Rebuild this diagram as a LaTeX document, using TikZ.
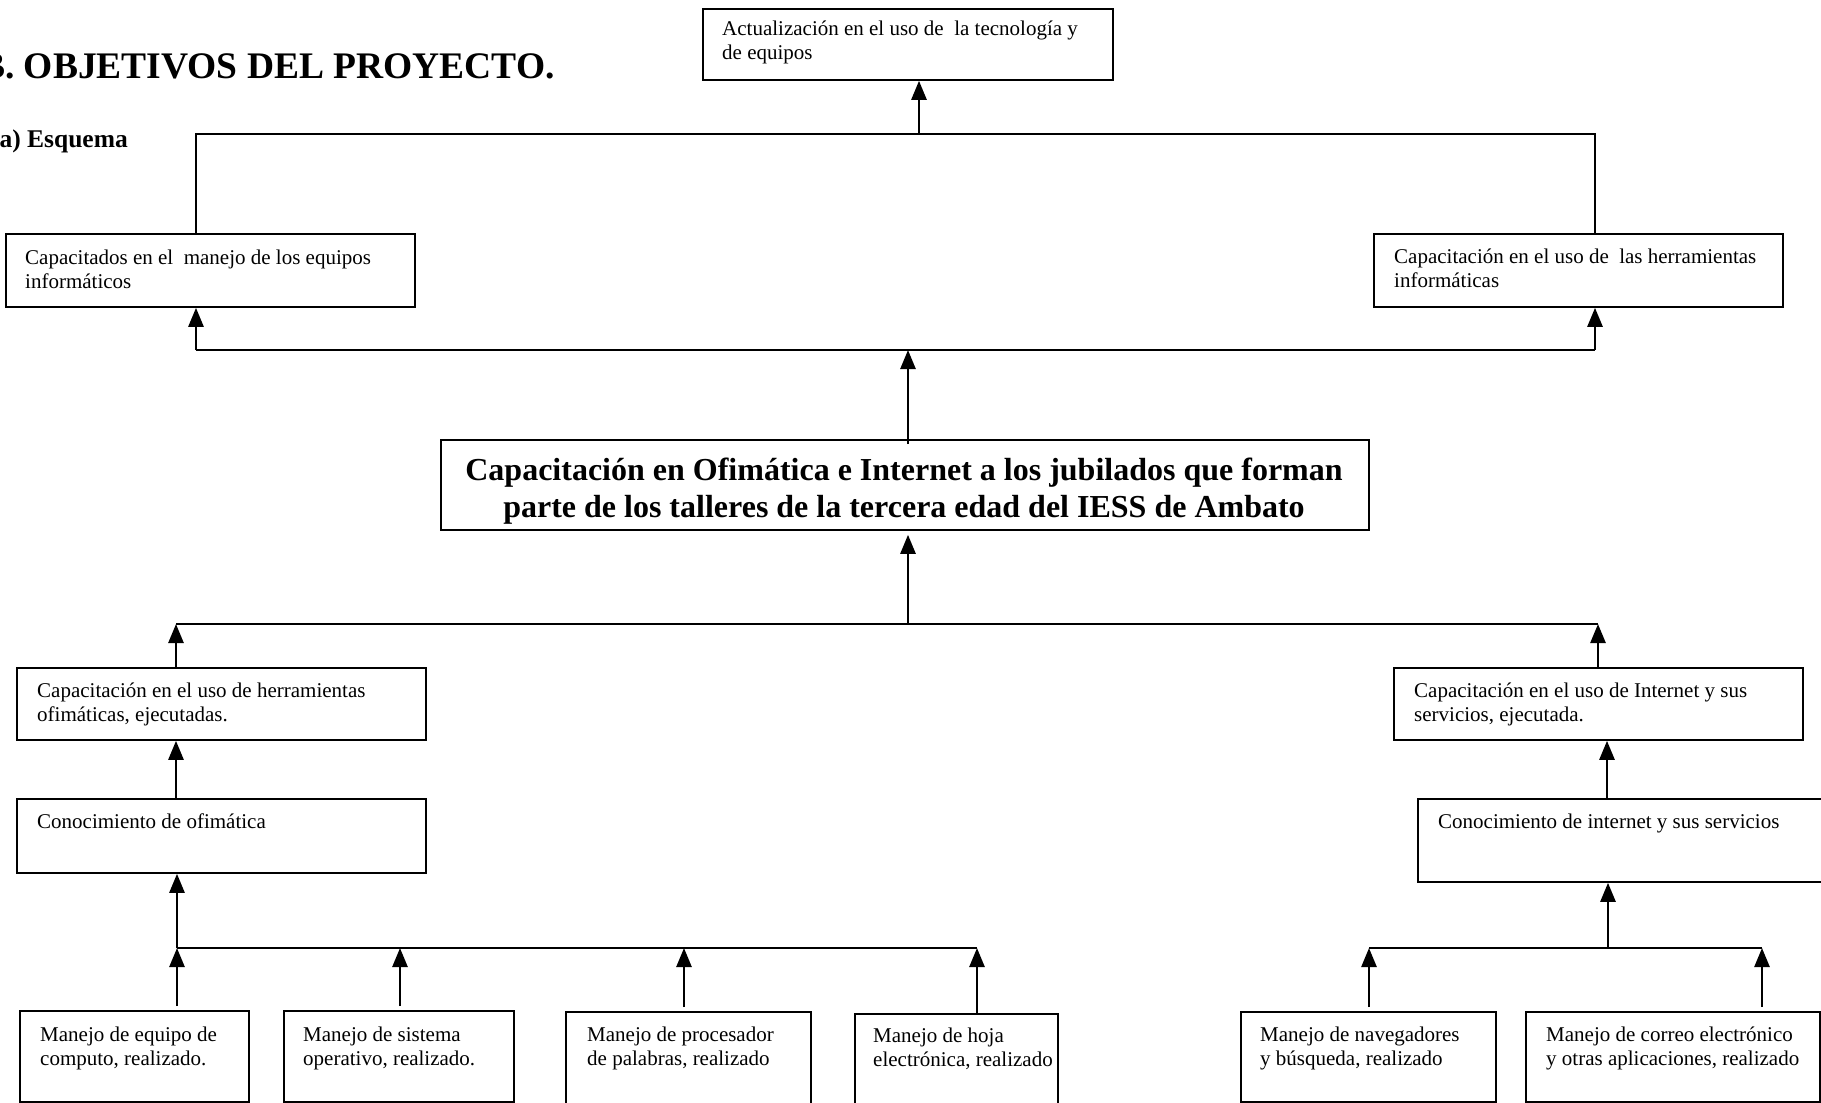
\documentclass[tikz,border=0pt]{standalone}
\usepackage{fontspec}
\setmainfont{Liberation Serif}
\usetikzlibrary{arrows.meta}
\begin{document}
\begin{tikzpicture}[x=1pt,y=-1pt,
  boxst/.style={draw, line width=1.8pt, rectangle, inner sep=0pt, anchor=north west},
  txt/.style={inner sep=0pt, anchor=north west, align=left, font=\fontsize{21}{24}\selectfont},
  ln/.style={line width=1.8pt},
  arr/.style={line width=2.6pt, -{Triangle[width=15pt,length=19pt]}}]
\useasboundingbox (0,0) rectangle (1821,1103);

% headings
\node[anchor=base east, inner sep=0pt, font=\bfseries\fontsize{37.5}{40}\selectfont] (title) at (555,78) {B. OBJETIVOS DEL PROYECTO.};
\node[anchor=base east, inner sep=0pt, font=\bfseries\fontsize{25.5}{28}\selectfont] (sub) at (128,147) {a) Esquema};

% boxes
\node[boxst, minimum width=410pt, minimum height=71pt] (A) at (702,8) {};
\node[boxst, minimum width=409pt, minimum height=73pt] (C1) at (5,233) {};
\node[boxst, minimum width=409pt, minimum height=73pt] (C2) at (1373,233) {};
\node[boxst, minimum width=928pt, minimum height=90pt] (M) at (440,439) {};
\node[boxst, minimum width=409pt, minimum height=72pt] (D1) at (16,667) {};
\node[boxst, minimum width=409pt, minimum height=72pt] (D2) at (1393,667) {};
\node[boxst, minimum width=409pt, minimum height=74pt] (E1) at (16,798) {};
\node[boxst, minimum width=420pt, minimum height=83pt] (E2) at (1417,798) {};
\node[boxst, minimum width=229pt, minimum height=91pt] (B1) at (19,1010) {};
\node[boxst, minimum width=230pt, minimum height=91pt] (B2) at (283,1010) {};
\node[boxst, minimum width=245pt, minimum height=100pt] (B3) at (565,1011) {};
\node[boxst, minimum width=203pt, minimum height=100pt] (B4) at (854,1013) {};
\node[boxst, minimum width=255pt, minimum height=90pt] (B5) at (1240,1011) {};
\node[boxst, minimum width=294pt, minimum height=90pt] (B6) at (1525,1011) {};

% texts
\node[txt] (tA) at (722,18.2) {\strut Actualización en el uso de~ la tecnología y\\de equipos};
\node[txt] (tC1) at (25,247.2) {\strut Capacitados en el~ manejo de los equipos\\informáticos};
\node[txt] (tC2) at (1394,246.2) {\strut Capacitación en el uso de~ las herramientas\\informáticas};
\node[inner sep=0pt, anchor=north, align=center, font=\bfseries\fontsize{32}{37}\selectfont] (tM) at (904,454.1)
  {\strut Capacitación en Ofimática e Internet a los jubilados que forman\\parte de los talleres de la tercera edad del IESS de Ambato};
\node[txt] (tD1) at (37,680.2) {\strut Capacitación en el uso de herramientas\\ofimáticas, ejecutadas.};
\node[txt] (tD2) at (1414,680.2) {\strut Capacitación en el uso de Internet y sus\\servicios, ejecutada.};
\node[txt] (tE1) at (37,811.2) {\strut Conocimiento de ofimática};
\node[txt] (tE2) at (1438,811.2) {\strut Conocimiento de internet y sus servicios};
\node[txt] (tB1) at (40,1024.2) {\strut Manejo de equipo de\\computo, realizado.};
\node[txt] (tB2) at (303,1024.2) {\strut Manejo de sistema\\operativo, realizado.};
\node[txt] (tB3) at (587,1024.2) {\strut Manejo de procesador\\de palabras, realizado};
\node[txt] (tB4) at (873,1025.2) {\strut Manejo de hoja\\electrónica, realizado};
\node[txt] (tB5) at (1260,1024.2) {\strut Manejo de navegadores\\y búsqueda, realizado};
\node[txt] (tB6) at (1546,1024.2) {\strut Manejo de correo electrónico\\y otras aplicaciones, realizado};

% junction coordinates
\coordinate (j1) at (196,134);
\coordinate (j2) at (1595,134);
\coordinate (j3) at (919,134);
\coordinate (k1) at (196,350);
\coordinate (k2) at (1595,350);
\coordinate (k3) at (908,350);
\coordinate (d1) at (176,624);
\coordinate (d2) at (1598,624);
\coordinate (d3) at (908,624);
\coordinate (dx) at (1607,624);
\coordinate (e1) at (177,948);
\coordinate (e2) at (400,948);
\coordinate (e3) at (684,948);
\coordinate (e4) at (977,948);
\coordinate (f1) at (1369,948);
\coordinate (f2) at (1762,948);
\coordinate (f3) at (1608,948);

% top level
\draw[ln] (C1.north -| j1) -- (j1) -- (j2) -- (C2.north -| j2);
\draw[arr] (j3) -- (A.south -| j3);

% second level
\draw[ln] (k1) -- (k2);
\draw[arr] (k1) -- (C1.south -| k1);
\draw[arr] (k2) -- (C2.south -| k2);
\draw[arr] ([yshift=-5pt]M.north -| k3) -- (k3);

% third level
\draw[ln] (d1) -- (d2);
\draw[arr] (D1.north -| d1) -- (d1);
\draw[arr] (D2.north -| d2) -- (d2);
\draw[arr] (d3) -- ([yshift=-4pt]M.south -| d3);
\draw[arr] (E1.north -| d1) -- (D1.south -| d1);
\draw[arr] (E2.north -| dx) -- (D2.south -| dx);

% bottom left
\draw[ln] (e1) -- (e4);
\draw[arr] (e1) -- (E1.south -| e1);
\draw[arr] ([yshift=4pt]B1.north -| e1) -- (e1);
\draw[arr] ([yshift=4pt]B2.north -| e2) -- (e2);
\draw[arr] ([yshift=4pt]B3.north -| e3) -- (e3);
\draw[arr] (B4.north -| e4) -- (e4);

% bottom right
\draw[ln] (f1) -- (f2);
\draw[arr] (f3) -- (E2.south -| f3);
\draw[arr] ([yshift=4pt]B5.north -| f1) -- (f1);
\draw[arr] ([yshift=4pt]B6.north -| f2) -- (f2);
\end{tikzpicture}
\end{document}
